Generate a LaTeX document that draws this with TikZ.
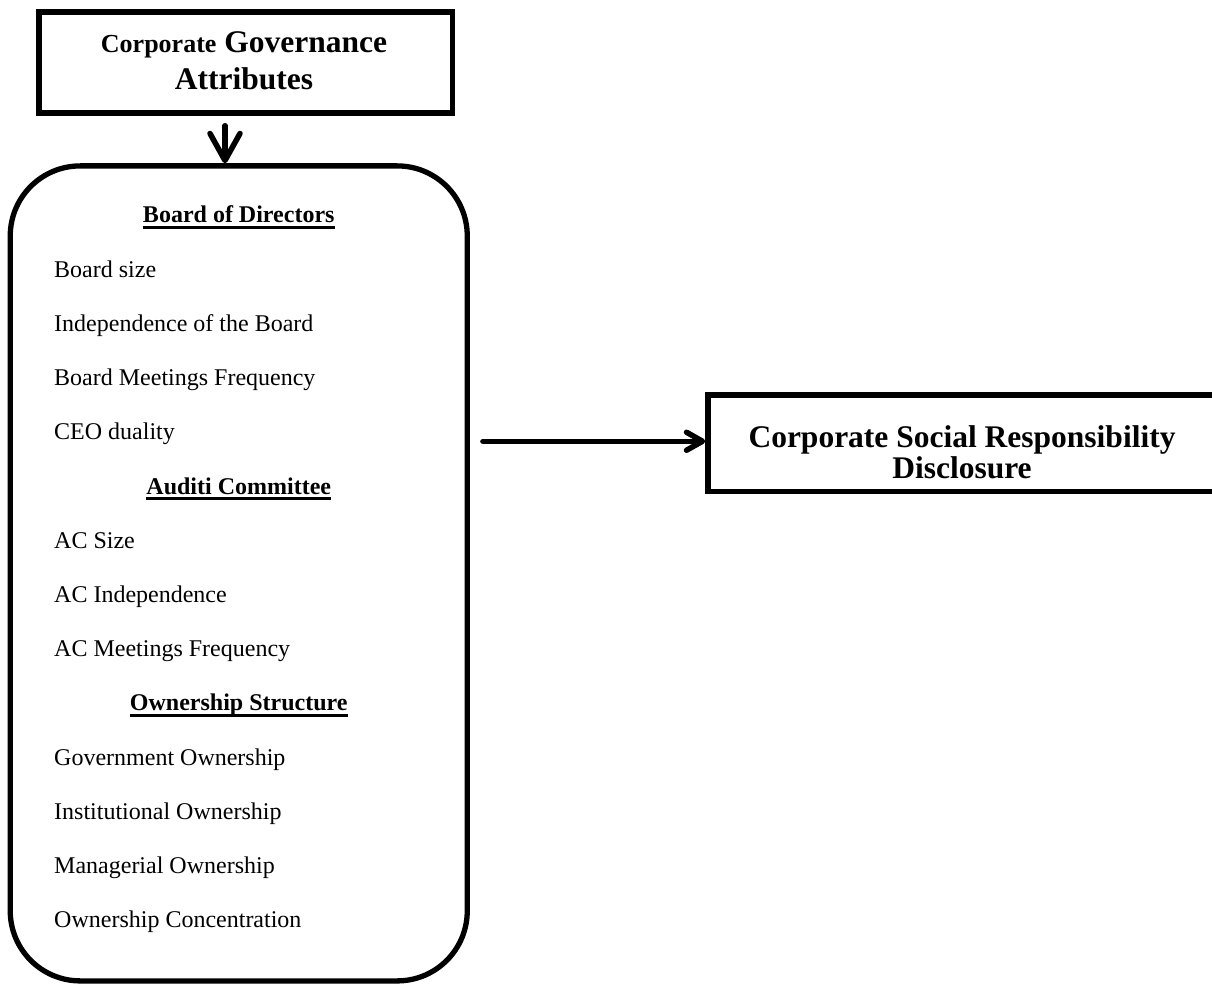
\documentclass[tikz,border=0pt]{standalone}
\usepackage{fontspec}
\setmainfont{Liberation Serif}
\usetikzlibrary{arrows.meta,calc}
\newcommand\hdul[1]{\setbox0\hbox{#1}\rlap{\rule[-5.8pt]{\wd0}{2.6pt}}\box0}
\tikzset{
  sqbox/.style={draw, line width=5.5pt, inner sep=0pt},
  rbox/.style={draw, line width=5.3pt, rounded corners=70pt, inner sep=0pt},
  item/.style={anchor=base west, inner sep=0pt, font=\fontsize{24}{24}\selectfont},
  head/.style={anchor=base, inner sep=0pt, font=\fontsize{24}{24}\selectfont\bfseries},
  ttl/.style={anchor=base, inner sep=0pt, font=\fontsize{31.5}{31.5}\selectfont\bfseries},
  downarr/.style={line width=5.5pt, line cap=round, -{Straight Barb[length=27pt, width=30pt, round]}},
  rightarr/.style={line width=5.5pt, line cap=round, -{Straight Barb[length=16pt, width=18pt, round]}},
}
\begin{document}
\begin{tikzpicture}[x=1pt,y=-1pt]
\useasboundingbox (0,0) rectangle (1212,984);
\clip (0,0) rectangle (1212,984);
% boxes
\node[sqbox, minimum width=413.5pt, minimum height=100.8pt] (cga) at (245.75,62.6) {};
\node[ttl] (cgat1) at (244,53) {{\fontsize{26}{26}\selectfont Corporate} Governance};
\node[ttl] (cgat2) at (244,90) {Attributes};
\node[rbox, minimum width=457pt, minimum height=815pt] (vars) at (238.75,573.4) {};
\node[sqbox, minimum width=508pt, minimum height=96.5pt] (csr) at (962,443.25) {};
\node[ttl] (csrt1) at (962,447) {Corporate Social Responsibility};
\node[ttl] (csrt2) at (962,478) {Disclosure};
% list
\node[head] (h1) at (238.75,223) {\hdul{Board of Directors}};
\node[item] (i1) at (54,277.2) {Board size};
\node[item] (i2) at (54,331.4) {Independence of the Board};
\node[item] (i3) at (54,385.6) {Board Meetings Frequency};
\node[item] (i4) at (54,439.8) {CEO duality};
\node[head] (h2) at (238.75,494) {\hdul{Auditi Committee}};
\node[item] (i5) at (54,548.2) {AC Size};
\node[item] (i6) at (54,602.4) {AC Independence};
\node[item] (i7) at (54,656.6) {AC Meetings Frequency};
\node[head] (h3) at (238.75,710.8) {\hdul{Ownership Structure}};
\node[item] (i8) at (54,765) {Government Ownership};
\node[item] (i9) at (54,819.2) {Institutional Ownership};
\node[item] (i10) at (54,873.4) {Managerial Ownership};
\node[item] (i11) at (54,927.6) {Ownership Concentration};
% connectors
\coordinate (dstart) at ($(cga.south)+(-20.75,10)$);
\draw[downarr] (dstart) -- (dstart |- vars.north);
\coordinate (rstart) at ($(vars.east |- csr.west)+(13,-2)$);
\draw[rightarr] (rstart) -- (rstart -| csr.west);
\end{tikzpicture}
\end{document}
